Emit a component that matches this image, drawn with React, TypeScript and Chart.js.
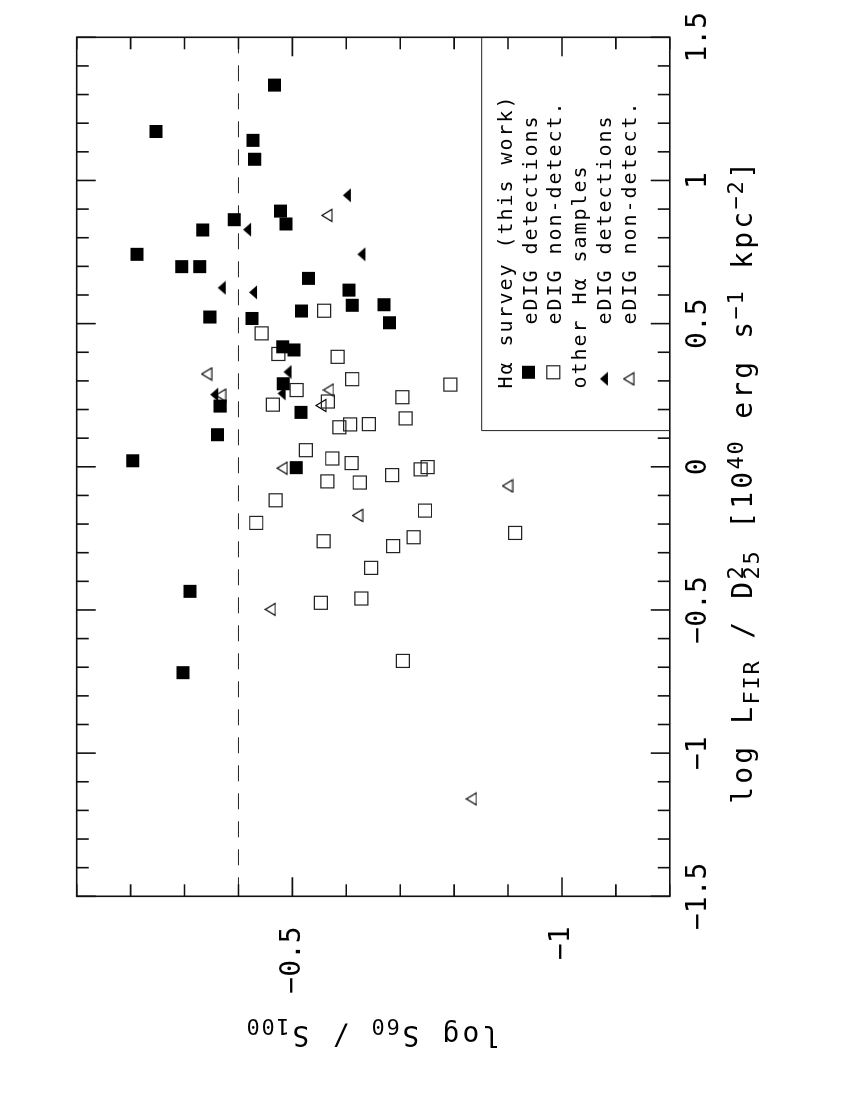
import React, { useEffect, useRef } from 'react';
import { Chart, registerables } from 'chart.js';

Chart.register(...registerables);

// ---------- data ----------
const xRange = [-1.5, 1.5];
const yRange = [-1.2, -0.1];
const xTickValues = [-1.5, -1, -0.5, 0, 0.5, 1, 1.5];
const yTickValues = [-1, -0.5];
const xMinorStep = 0.1;
const yMinorStep = 0.1;
const thresholdY = -0.4;

// Hα survey (this work), eDIG detections
const surveyDetX = [1.333, 1.171, 1.140, 1.074, 0.893, 0.848, 0.863, 0.827, 0.742, 0.699, 0.699, 0.658, 0.544, 0.523, 0.518, 0.419, 0.408, 0.290, 0.212, 0.190, 0.112, 0.021, -0.003, 0.617, 0.564, 0.566, 0.503, -0.435, -0.719];
const surveyDetY = [-0.467, -0.247, -0.427, -0.430, -0.478, -0.488, -0.392, -0.334, -0.212, -0.295, -0.328, -0.530, -0.517, -0.347, -0.425, -0.482, -0.503, -0.483, -0.366, -0.516, -0.361, -0.204, -0.507, -0.605, -0.611, -0.670, -0.680, -0.310, -0.297];

// Hα survey (this work), eDIG non-detections
const surveyNonX = [0.545, 0.466, 0.394, 0.384, 0.306, 0.287, 0.268, 0.228, 0.243, 0.217, 0.169, 0.138, 0.148, 0.149, 0.058, 0.029, 0.013, -0.051, -0.055, -0.029, -0.009, -0.001, -0.117, -0.196, -0.153, -0.231, -0.260, -0.277, -0.246, -0.353, -0.475, -0.460, -0.678];
const surveyNonY = [-0.559, -0.443, -0.474, -0.584, -0.611, -0.793, -0.508, -0.566, -0.704, -0.464, -0.710, -0.587, -0.607, -0.642, -0.525, -0.574, -0.610, -0.565, -0.625, -0.685, -0.738, -0.751, -0.469, -0.433, -0.746, -0.913, -0.558, -0.687, -0.725, -0.646, -0.553, -0.628, -0.705];

// other Hα samples, eDIG detections
const otherDetX = [0.948, 0.828, 0.742, 0.625, 0.609, 0.331, 0.256, 0.252];
const otherDetY = [-0.601, -0.416, -0.628, -0.369, -0.427, -0.491, -0.480, -0.355];

// other Hα samples, eDIG non-detections
const otherNonX = [0.878, 0.324, 0.250, 0.268, 0.214, -0.005, -0.067, -0.170, -0.498, -1.160];
const otherNonY = [-0.564, -0.341, -0.367, -0.567, -0.553, -0.481, -0.899, -0.621, -0.459, -0.832];

const legendHeadings = ['Hα survey (this work)', 'other Hα samples'];
const legendItems = ['eDIG detections', 'eDIG non-detect.', 'eDIG detections', 'eDIG non-detect.'];

type Seg = { t: string; k: 'n' | 'sub' | 'sup'; stack?: boolean };
const xTitle: Seg[] = [
  { t: 'log L', k: 'n' },
  { t: 'FIR', k: 'sub' },
  { t: ' / D', k: 'n' },
  { t: '2', k: 'sup', stack: true },
  { t: '25', k: 'sub' },
  { t: ' [10', k: 'n' },
  { t: '40', k: 'sup' },
  { t: ' erg s', k: 'n' },
  { t: '−1', k: 'sup' },
  { t: ' kpc', k: 'n' },
  { t: '−2', k: 'sup' },
  { t: ']', k: 'n' },
];
const yTitle: Seg[] = [
  { t: 'log S', k: 'n' },
  { t: '60', k: 'sub' },
  { t: ' / S', k: 'n' },
  { t: '100', k: 'sub' },
];

// ---------- layout (landscape canvas, rotated on the page) ----------
const W = 1100;
const H = 850;
const PLOT_LEFT = 203.7;
const PLOT_RIGHT = 1068.3;
const PLOT_TOP = 76.7;
const PLOT_BOTTOM = 669.8;
const FONT = "'DejaVu Sans Mono', 'Liberation Mono', monospace";
const INK = '#111';

const fmt = (v: number) => (v === 0 ? '0' : (v < 0 ? '−' : '') + String(Math.abs(v)));

function drawMono(ctx: CanvasRenderingContext2D, text: string, x: number, y: number, adv: number) {
  const chars = Array.from(text);
  ctx.textAlign = 'center';
  chars.forEach((ch, i) => ctx.fillText(ch, x + adv * (i + 0.5), y));
  return chars.length * adv;
}

const NORMAL = { size: 28, adv: 20 };
const SMALL = { size: 22, adv: 15 };

function richWidth(segs: Seg[]) {
  let w = 0;
  for (const s of segs) {
    if (s.stack) continue;
    w += Array.from(s.t).length * (s.k === 'n' ? NORMAL.adv : SMALL.adv);
  }
  return w;
}

function drawRich(ctx: CanvasRenderingContext2D, segs: Seg[], x: number, y: number) {
  let cx = x;
  ctx.textBaseline = 'alphabetic';
  for (const s of segs) {
    const f = s.k === 'n' ? NORMAL : SMALL;
    ctx.font = `${f.size}px ${FONT}`;
    const dy = s.k === 'sub' ? 7 : s.k === 'sup' ? -9 : 0;
    const w = drawMono(ctx, s.t, cx, y + dy, f.adv);
    if (!s.stack) cx += w;
  }
}

function makeTriangle(filled: boolean) {
  const c = document.createElement('canvas');
  const w = 15;
  const h = filled ? 10 : 12;
  c.width = w;
  c.height = h;
  const g = c.getContext('2d') as CanvasRenderingContext2D;
  g.beginPath();
  if (filled) {
    g.moveTo(w / 2, 1);
    g.lineTo(w - 0.5, h - 1);
    g.lineTo(0.5, h - 1);
    g.closePath();
    g.fillStyle = '#000';
    g.fill();
  } else {
    g.moveTo(w / 2, 1);
    g.lineTo(w - 1.5, h - 1);
    g.lineTo(1.5, h - 1);
    g.closePath();
    g.strokeStyle = '#000';
    g.lineWidth = 1.2;
    g.stroke();
  }
  return c;
}

const pts = (xs: number[], ys: number[]) => xs.map((x, i) => ({ x, y: ys[i] }));

export default function App() {
  const ref = useRef<HTMLCanvasElement | null>(null);

  useEffect(() => {
    const canvas = ref.current;
    if (!canvas) return;
    const triFilled = makeTriangle(true);
    const triOpen = makeTriangle(false);

    const decorPlugin = {
      id: 'decor',
      beforeDatasetsDraw(chart: any) {
        const ctx: CanvasRenderingContext2D = chart.ctx;
        const { left, right } = chart.chartArea;
        const ys = chart.scales.y;
        ctx.save();
        const py = ys.getPixelForValue(thresholdY);
        ctx.strokeStyle = '#222';
        ctx.lineWidth = 1;
        ctx.setLineDash([16, 12]);
        ctx.beginPath();
        ctx.moveTo(right, py);
        ctx.lineTo(left, py);
        ctx.stroke();
        ctx.setLineDash([]);
        ctx.restore();
      },
      afterDatasetsDraw(chart: any) {
        const ctx: CanvasRenderingContext2D = chart.ctx;
        const { left, right, top, bottom } = chart.chartArea;
        const xs = chart.scales.x;
        const ys = chart.scales.y;
        ctx.save();
        ctx.strokeStyle = INK;
        ctx.lineWidth = 1.6;
        ctx.strokeRect(left, top, right - left, bottom - top);
        ctx.beginPath();
        const nx = Math.round((xRange[1] - xRange[0]) / xMinorStep);
        for (let i = 0; i <= nx; i++) {
          const v = xRange[0] + i * xMinorStep;
          const major = Math.abs(v / 0.5 - Math.round(v / 0.5)) < 1e-6;
          const len = major ? 19 : 12;
          const px = xs.getPixelForValue(v);
          ctx.moveTo(px, bottom);
          ctx.lineTo(px, bottom - len);
          ctx.moveTo(px, top);
          ctx.lineTo(px, top + len);
        }
        const ny = Math.round((yRange[1] - yRange[0]) / yMinorStep);
        for (let i = 0; i <= ny; i++) {
          const v = yRange[0] + i * yMinorStep;
          const major = Math.abs(v / 0.5 - Math.round(v / 0.5)) < 1e-6;
          const len = major ? 19 : 12;
          const p = ys.getPixelForValue(v);
          ctx.moveTo(left, p);
          ctx.lineTo(left + len, p);
          ctx.moveTo(right, p);
          ctx.lineTo(right - len, p);
        }
        ctx.stroke();

        // legend box
        const lx = right - 393.3;
        const ly = bottom - 188.1;
        ctx.lineWidth = 1;
        ctx.strokeStyle = '#222';
        ctx.beginPath();
        ctx.moveTo(right, ly);
        ctx.lineTo(lx, ly);
        ctx.lineTo(lx, bottom);
        ctx.stroke();

        const rowStep = 24.8;
        const base0 = ly + 30;
        ctx.fillStyle = '#000';
        ctx.font = `20px ${FONT}`;
        ctx.textBaseline = 'alphabetic';
        drawMono(ctx, legendHeadings[0], lx + 41, base0, 14);
        drawMono(ctx, legendHeadings[1], lx + 41, base0 + 3 * rowStep, 14);
        const itemRows = [1, 2, 4, 5];
        itemRows.forEach((r, i) => {
          drawMono(ctx, legendItems[i], lx + 105, base0 + r * rowStep, 14);
        });
        const sq = 13;
        const r1 = base0 + rowStep - 8;
        ctx.fillRect(lx + 58.3 - sq / 2, r1 - sq / 2, sq, sq);
        const r2 = base0 + 2 * rowStep - 8;
        ctx.strokeStyle = '#222';
        ctx.lineWidth = 1.2;
        ctx.strokeRect(lx + 58.3 - sq / 2, r2 - sq / 2, sq, sq);
        const r4 = base0 + 4 * rowStep - 7;
        ctx.drawImage(triFilled, lx + 51.7 - triFilled.width / 2, r4 - triFilled.height / 2);
        const r5 = base0 + 5 * rowStep - 7;
        ctx.drawImage(triOpen, lx + 51.7 - triOpen.width / 2, r5 - triOpen.height / 2);

        // axis titles
        ctx.fillStyle = '#000';
        const xw = richWidth(xTitle);
        drawRich(ctx, xTitle, (left + right) / 2 - 16 - xw / 2, 751.7);

        const yw = richWidth(yTitle);
        ctx.save();
        ctx.translate(74, (top + bottom) / 2);
        ctx.rotate(-Math.PI / 2);
        drawRich(ctx, yTitle, -yw / 2, 0);
        ctx.restore();

        ctx.restore();
      },
    };

    const chart = new Chart(canvas, {
      type: 'scatter',
      data: {
        datasets: [
          {
            label: 'Hα survey eDIG detections',
            data: pts(surveyDetX, surveyDetY),
            pointStyle: 'rect',
            pointRadius: 9.2,
            backgroundColor: '#000',
            borderWidth: 0,
          },
          {
            label: 'other Hα eDIG detections',
            data: pts(otherDetX, otherDetY),
            pointStyle: triFilled as any,
            pointRadius: 7,
            backgroundColor: '#000',
            borderWidth: 0,
          },
          {
            label: 'Hα survey eDIG non-detections',
            data: pts(surveyNonX, surveyNonY),
            pointStyle: 'rect',
            pointRadius: 9.2,
            backgroundColor: 'rgba(0,0,0,0)',
            borderColor: '#222',
            borderWidth: 1.2,
          },
          {
            label: 'other Hα eDIG non-detections',
            data: pts(otherNonX, otherNonY),
            pointStyle: triOpen as any,
            pointRadius: 7,
            backgroundColor: 'rgba(0,0,0,0)',
            borderColor: '#222',
            borderWidth: 1,
          },
        ],
      },
      options: {
        responsive: false,
        animation: false,
        devicePixelRatio: 1,
        events: [],
        layout: { padding: { top: PLOT_TOP, right: W - PLOT_RIGHT, left: 0, bottom: 0 } },
        plugins: { legend: { display: false }, tooltip: { enabled: false } },
        scales: {
          x: {
            type: 'linear',
            position: 'bottom',
            min: xRange[0],
            max: xRange[1],
            afterBuildTicks: (s: any) => {
              s.ticks = xTickValues.map((value) => ({ value }));
            },
            afterFit: (s: any) => {
              s.height = H - PLOT_BOTTOM;
            },
            grid: { display: false, drawTicks: false },
            border: { display: false },
            ticks: {
              autoSkip: false,
              maxRotation: 0,
              minRotation: 0,
              padding: 12,
              color: '#000',
              font: { family: FONT, size: 28 },
              callback: (v: any) => fmt(Number(v)),
            },
          },
          y: {
            type: 'linear',
            position: 'left',
            min: yRange[0],
            max: yRange[1],
            afterBuildTicks: (s: any) => {
              s.ticks = yTickValues.map((value) => ({ value }));
            },
            afterFit: (s: any) => {
              s.width = PLOT_LEFT;
            },
            grid: { display: false, drawTicks: false },
            border: { display: false },
            ticks: {
              autoSkip: false,
              padding: 30,
              color: '#000',
              font: { family: FONT, size: 28 },
              callback: (v: any) => fmt(Number(v)),
            },
          },
        },
      },
      plugins: [decorPlugin],
    } as any);

    return () => chart.destroy();
  }, []);

  return (
    <div
      style={{
        position: 'fixed',
        left: (850 - W) / 2,
        top: (1100 - H) / 2,
        width: W,
        height: H,
        transform: 'rotate(-90deg)',
        transformOrigin: '50% 50%',
        background: '#fff',
      }}
    >
      <canvas ref={ref} width={W} height={H} style={{ display: 'block', width: W, height: H }} />
    </div>
  );
}
